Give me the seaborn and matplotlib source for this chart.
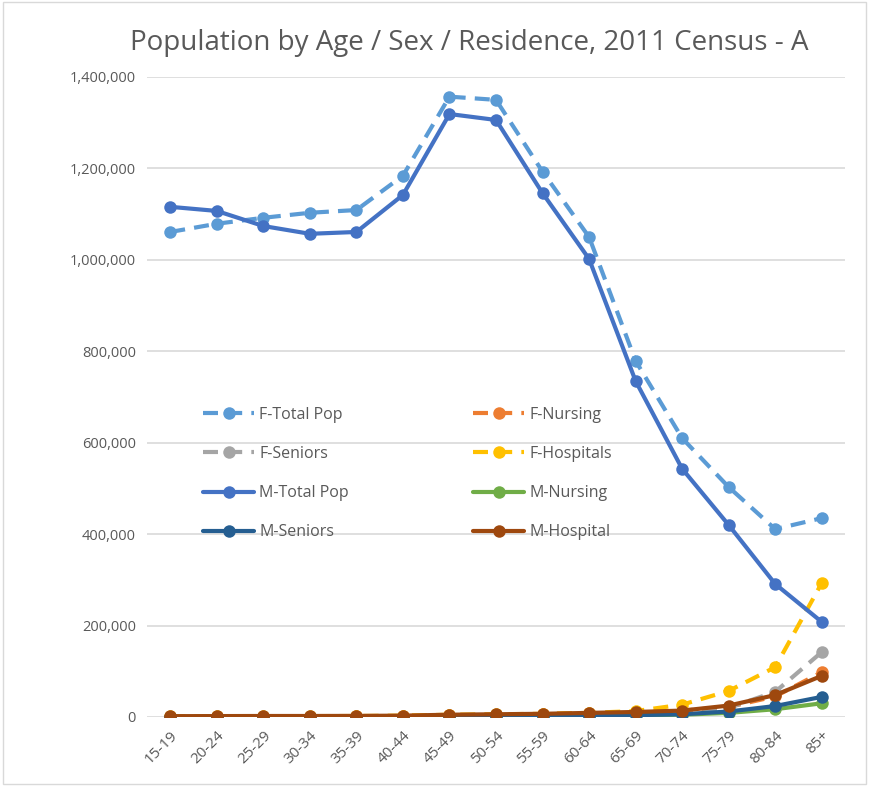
import numpy as np
import pandas as pd
import seaborn as sns
import matplotlib.pyplot as plt
from matplotlib.ticker import FuncFormatter

ages = ['15-19', '20-24', '25-29', '30-34', '35-39', '40-44', '45-49', '50-54',
        '55-59', '60-64', '65-69', '70-74', '75-79', '80-84', '85+']

f_total = [1061000, 1079000, 1092000, 1103000, 1109000, 1184000, 1357000, 1350000,
           1193000, 1050000, 779000, 610000, 503000, 411000, 435000]
f_nursing = [500, 600, 800, 1000, 1300, 2000, 3500, 5000, 6500, 8000, 10000, 14000, 22000, 45000, 98000]
f_seniors = [100, 100, 200, 300, 400, 600, 1000, 1500, 2500, 4000, 6000, 9000, 20000, 55000, 142000]
f_hospitals = [1500, 1800, 2000, 2000, 2200, 3000, 5000, 6000, 7000, 9000, 13000, 27000, 57000, 109000, 293000]
m_total = [1116000, 1107000, 1074000, 1057000, 1061000, 1142000, 1319000, 1306000,
           1146000, 1002000, 735000, 543000, 420000, 291000, 208000]
m_nursing = [300, 400, 500, 600, 700, 900, 1300, 1800, 2500, 3200, 4000, 5000, 9000, 17000, 30000]
m_seniors = [100, 100, 200, 300, 400, 500, 800, 1200, 1800, 2800, 4000, 6000, 12000, 24000, 44000]
m_hospital = [1800, 2000, 2200, 2200, 2400, 3000, 5000, 6000, 7000, 9000, 11000, 14000, 25000, 48000, 90000]

series = [
    ('F-Total Pop', f_total, '#5B9BD5', '--'),
    ('F-Nursing', f_nursing, '#ED7D31', '--'),
    ('F-Seniors', f_seniors, '#A5A5A5', '--'),
    ('F-Hospitals', f_hospitals, '#FFC000', '--'),
    ('M-Total Pop', m_total, '#4472C4', '-'),
    ('M-Nursing', m_nursing, '#70AD47', '-'),
    ('M-Seniors', m_seniors, '#255E91', '-'),
    ('M-Hospital', m_hospital, '#9E480E', '-'),
]

sns.set_style('white')
plt.rcParams['font.family'] = ['Open Sans', 'DejaVu Sans']

fig = plt.figure(figsize=(8.69, 7.86), dpi=100)
ax = fig.add_axes([147 / 869, 69 / 786, 698 / 869, 640 / 786])

handles = {}
for name, vals, color, ls in series:
    df = pd.DataFrame({'age': ages, 'pop': vals})
    sns.lineplot(data=df, x='age', y='pop', ax=ax, color=color, linestyle=ls,
                 linewidth=3, marker='o', markersize=9, markeredgewidth=0,
                 sort=False, label=name)
    handles[name] = ax.lines[-1]
    if ls == '--':
        ax.lines[-1].set_dashes([3.6, 2.2])

ax.set_xlim(-0.5, len(ages) - 0.5)
ax.set_ylim(0, 1400000)
ax.set_yticks(np.arange(0, 1400001, 200000))
ax.yaxis.set_major_formatter(FuncFormatter(lambda v, p: f'{int(v):,}'))
ax.grid(axis='y', color='#D9D9D9', linewidth=1.2, zorder=0)
ax.set_axisbelow(True)
for s in ax.spines.values():
    s.set_visible(False)
ax.tick_params(axis='y', length=0, labelsize=10.5, colors='#595959', pad=8)
ax.tick_params(axis='x', length=0, labelsize=11, colors='#595959', pad=8)
plt.setp(ax.get_xticklabels(), rotation=45, ha='right', rotation_mode='anchor')
ax.set_xlabel('')
ax.set_ylabel('')

order = ['F-Total Pop', 'F-Seniors', 'M-Total Pop', 'M-Seniors',
         'F-Nursing', 'F-Hospitals', 'M-Nursing', 'M-Hospital']
ax.legend([handles[n] for n in order], order, ncol=2, frameon=False,
          loc='upper left', bbox_to_anchor=(0.06, 0.507), fontsize=11.5,
          labelcolor='#595959', handlelength=3.2, columnspacing=7.8,
          labelspacing=1.45, handletextpad=0.3, numpoints=1)

fig.text(0.54, 0.945, 'Population by Age / Sex / Residence, 2011 Census - A',
         ha='center', va='center', fontsize=20, color='#595959')

fig.patches.append(plt.Rectangle((0.003, 0.003), 0.994, 0.994, transform=fig.transFigure,
                                 fill=False, edgecolor='#D9D9D9', linewidth=1))

fig.savefig('out.png', dpi=100)
